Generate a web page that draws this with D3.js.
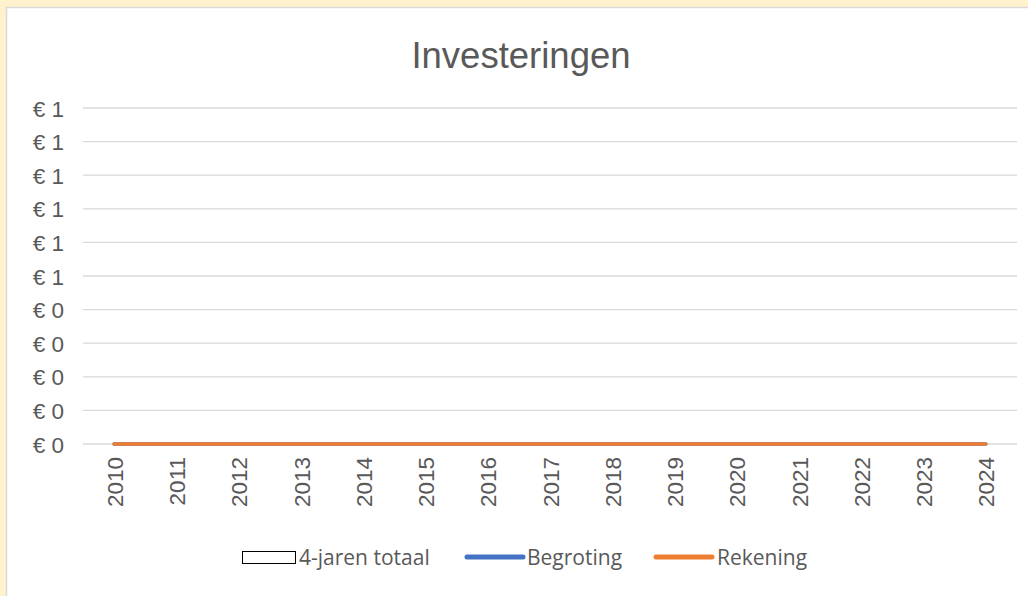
<!DOCTYPE html>
<html><head><meta charset="utf-8">
<script src="https://cdn.jsdelivr.net/npm/d3@7"></script>
<style>
html,body{margin:0;padding:0;background:#fff2cc;}
svg{display:block;}
.arial{font-family:"Liberation Sans",Arial,sans-serif;}
.leg{font-family:"Open Sans","Noto Sans",sans-serif;}
</style></head>
<body>
<svg id="chart" width="1028" height="596"></svg>
<script>
const title = "Investeringen";
const years = ["2010","2011","2012","2013","2014","2015","2016","2017","2018","2019","2020","2021","2022","2023","2024"];
const totaal4 = [0,0,0,0,0,0,0,0,0,0,0,0,0,0,0];
const begroting = [0,0,0,0,0,0,0,0,0,0,0,0,0,0,0];
const rekening = [0,0,0,0,0,0,0,0,0,0,0,0,0,0,0];
const yTicks = [0,0.1,0.2,0.3,0.4,0.5,0.6,0.7,0.8,0.9,1];
const seriesNames = ["4-jaren totaal","Begroting","Rekening"];

const svg = d3.select("#chart");
svg.append("rect").attr("x",0).attr("y",0).attr("width",1028).attr("height",596).attr("fill","#fff2cc");
svg.append("rect").attr("x",6.5).attr("y",7.5).attr("width",1040).attr("height",600)
  .attr("fill","#ffffff").attr("stroke","#d9d9d9").attr("stroke-width",1.5);

const x = d3.scalePoint().domain(years).range([83,1017]).padding(0.5);
const xb = d3.scaleBand().domain(years).range([83,1017]).paddingInner(0.5);
const y = d3.scaleLinear().domain([0,1]).range([444,108]);

// gridlines
svg.append("g").selectAll("line").data(yTicks).join("line")
  .attr("x1",83).attr("x2",1017).attr("y1",d=>y(d)).attr("y2",d=>y(d))
  .attr("stroke","#d9d9d9").attr("stroke-width",1.3);

// y axis labels
const yAxis = d3.axisLeft(y).tickValues(yTicks).tickSize(0).tickPadding(0)
  .tickFormat(d=>"€ " + Math.round(d+1e-9));
const gy = svg.append("g").attr("transform","translate(64,0)").call(yAxis);
gy.attr("font-family",null).attr("font-size",null);
gy.select(".domain").remove();
gy.selectAll("text").attr("class","arial").style("font-size","22.5px").attr("fill","#595959").attr("dy","0.36em");

// bars (4-jaren totaal)
svg.append("g").selectAll("rect").data(totaal4).join("rect")
  .attr("x",(d,i)=>xb(years[i])).attr("width",xb.bandwidth())
  .attr("y",d=>y(d)).attr("height",d=>y(0)-y(d))
  .attr("fill","none").attr("stroke",d=>d>0?"#000":"none");

// x axis labels
const xAxis = d3.axisBottom(x).tickSize(0).tickPadding(0);
const gx = svg.append("g").attr("transform","translate(0,456)").call(xAxis);
gx.attr("font-family",null).attr("font-size",null);
gx.select(".domain").remove();
gx.selectAll("text").attr("class","arial").style("font-size","22.5px").attr("fill","#595959")
  .attr("transform","rotate(-90)").attr("text-anchor","end").attr("x",-1).attr("y",0).attr("dy","0.36em");

// lines
const line = d3.line().x((d,i)=>x(years[i])).y(d=>y(d));
svg.append("path").datum(begroting).attr("d",line).attr("fill","none").attr("stroke","#4472c4").attr("stroke-width",3.5).attr("stroke-linecap","round");
svg.append("path").datum(rekening).attr("d",line).attr("fill","none").attr("stroke","#ed7d31").attr("stroke-width",3.5).attr("stroke-linecap","round");

// title
svg.append("text").attr("class","arial").attr("x",521).attr("y",68).attr("text-anchor","middle")
  .style("font-size","36.5px").attr("fill","#595959").text(title);

// legend
const lg = svg.append("g").attr("class","leg").style("font-size","21px").attr("fill","#595959");
lg.append("rect").attr("x",242.5).attr("y",551.5).attr("width",53).attr("height",12).attr("fill","#fff").attr("stroke","#000").attr("stroke-width",1);
lg.append("text").attr("x",299).attr("y",557).attr("dy","0.36em").text(seriesNames[0]);
lg.append("line").attr("x1",467).attr("x2",523).attr("y1",557).attr("y2",557).attr("stroke","#4472c4").attr("stroke-width",5).attr("stroke-linecap","round");
lg.append("text").attr("x",527).attr("y",557).attr("dy","0.36em").text(seriesNames[1]);
lg.append("line").attr("x1",656).attr("x2",712).attr("y1",557).attr("y2",557).attr("stroke","#ed7d31").attr("stroke-width",5).attr("stroke-linecap","round");
lg.append("text").attr("x",717).attr("y",557).attr("dy","0.36em").text(seriesNames[2]);
</script>
</body></html>
